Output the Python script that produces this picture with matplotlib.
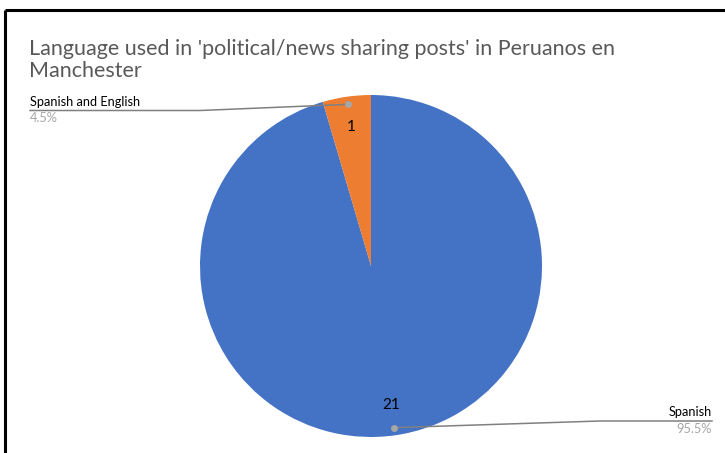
import numpy as np
import matplotlib
matplotlib.use("Agg")
from matplotlib import pyplot as plt

# data
labels = ['Spanish', 'Spanish and English']
counts = [21, 1]
colors = ['#4472C4', '#ED7D31']
title = "Language used in 'political/news sharing posts' in Peruanos en\nManchester"

plt.rcParams['font.family'] = ['Lato', 'DejaVu Sans']

W, H = 725, 453
fig = plt.figure(figsize=(W / 100, H / 100), dpi=100)
ax = fig.add_axes([0, 0, 1, 1])
ax.set_xlim(0, W)
ax.set_ylim(0, H)
ax.axis('off')

# pixel helper: y measured from the top
def py(y):
    return H - y

# frame (top and left edge of the cropped chart box)
ax.plot([5, W], [py(10), py(10)], color='black', lw=2.2, solid_capstyle='butt')
ax.plot([5, 5], [py(10), 0], color='black', lw=2.2, solid_capstyle='butt')

# multi-line text with va='baseline' anchors the last line
ax.text(29, py(77), title, fontsize=15.5, color='#595959', va='baseline', ha='left', linespacing=1.12)

cx, cy, r = 371, py(266), 171
total = sum(counts)
wedges, texts, autotexts = ax.pie(
    counts, colors=colors, startangle=90, counterclock=False,
    center=(cx, cy), radius=r, pctdistance=0.82,
    autopct=lambda p: '%d' % round(p * total / 100),
    textprops=dict(fontsize=11, color='black'),
    wedgeprops=dict(linewidth=0))
ax.set_xlim(0, W)
ax.set_ylim(0, H)
ax.set_aspect('equal')

# leader lines and outside labels
lab_pos = {'Spanish': (712, 'right'), 'Spanish and English': (30, 'left')}
lab_y = {'Spanish': py(421), 'Spanish and English': py(110.5)}
for w, name, c in zip(wedges, labels, counts):
    th = np.deg2rad((w.theta1 + w.theta2) / 2)
    dx, dy = cx + 0.955 * r * np.cos(th), cy + 0.955 * r * np.sin(th)
    lx, ha = lab_pos[name]
    ly = lab_y[name]
    bend = lx - 112 if ha == 'right' else lx + 170
    ax.plot([dx, bend, lx], [dy, ly, ly], color='#808080', lw=1.1)
    ax.plot(dx, dy, 'o', color='#A6A6A6', ms=4)
    ax.text(lx, ly + 3, name, fontsize=9.2, color='black', ha=ha, va='bottom')
    ax.text(lx, ly - 2, '%.1f%%' % (100 * c / total), fontsize=9.2, color='#A6A6A6', ha=ha, va='top')

fig.savefig('out.png', dpi=100)
